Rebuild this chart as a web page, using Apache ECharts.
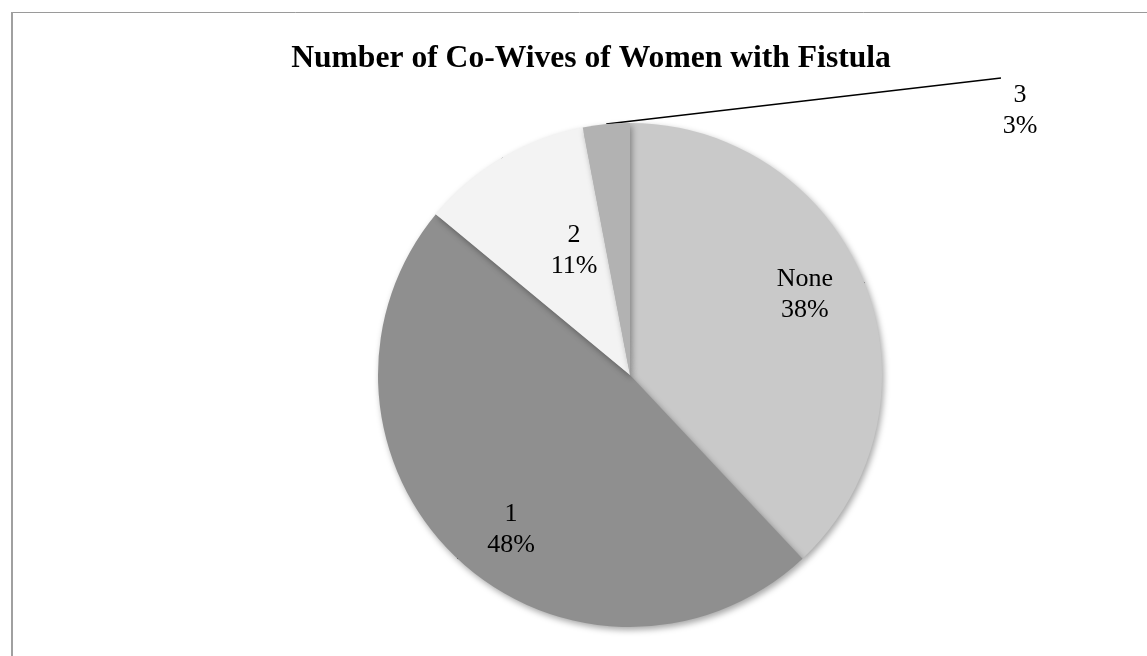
<!DOCTYPE html>
<html>
<head>
<meta charset="utf-8">
<script src="https://cdn.jsdelivr.net/npm/echarts@6/dist/echarts.min.js"></script>
<style>
html,body{margin:0;padding:0;background:#fff;}
#chart{width:1147px;height:656px;}
</style>
</head>
<body>
<div id="chart"></div>
<script>
const titleText = 'Number of Co-Wives of Women with Fistula';
const categories = ['None', '1', '2', '3'];
const values = [38, 48, 11, 3];
const colors = ['#c9c9c9', '#8f8f8f', '#f3f3f3', '#b2b2b2'];

const CX = 630, CY = 375, R = 252;
const total = values.reduce((a, b) => a + b, 0);
function midAngle(i) {
  let s = 0;
  for (let k = 0; k < i; k++) s += values[k];
  return ((s + values[i] / 2) / total) * 2 * Math.PI;
}
// radial fraction and angular offset (deg) of the inside labels
const labelFrac = [0.763, 0.775, 0.54];
const labelRot = [-3, -5.7, 6.3];

const chart = echarts.init(document.getElementById('chart'), null, {renderer: 'canvas'});
chart.setOption({
  backgroundColor: '#ffffff',
  animation: false,
  title: {
    text: titleText,
    left: 586, top: 38, textAlign: 'center',
    textStyle: {fontFamily: 'Liberation Serif', fontWeight: 'bold', fontSize: 31.6, color: '#000'}
  },
  graphic: [
    {type: 'line', shape: {x1: 11, y1: 12.5, x2: 1200, y2: 12.5}, style: {stroke: '#9a9a9a', lineWidth: 1}, silent: true},
    {type: 'line', shape: {x1: 12, y1: 12, x2: 12, y2: 700}, style: {stroke: '#a0a0a0', lineWidth: 2}, silent: true}
  ],
  series: [{
    type: 'pie',
    center: [CX, CY],
    radius: R,
    startAngle: 90,
    clockwise: true,
    data: categories.map((c, i) => ({name: c, value: values[i], itemStyle: {color: colors[i]}})),
    itemStyle: {
      borderWidth: 0,
      shadowBlur: 6, shadowOffsetX: 2, shadowOffsetY: 3, shadowColor: 'rgba(0,0,0,0.35)'
    },
    label: {
      show: true,
      position: 'outside',
      formatter: '{b}\n{d}%',
      fontFamily: 'Liberation Serif', fontSize: 26, color: '#000', lineHeight: 31,
      align: 'center'
    },
    labelLine: {show: true, length: 10, length2: 10, lineStyle: {color: '#000', width: 1.5}},
    labelLayout: function (p) {
      const i = p.dataIndex;
      const a = midAngle(i);
      if (i < 3) {
        const f = labelFrac[i];
        const b = a + labelRot[i] * Math.PI / 180;
        return {x: CX + f * R * Math.sin(b), y: CY - f * R * Math.cos(b), align: 'center', verticalAlign: 'middle'};
      }
      const sx = CX + R * Math.sin(a), sy = CY - R * Math.cos(a);
      const ex = 1001, ey = 78;
      return {x: ex + 19, y: ey + 2, align: 'center', verticalAlign: 'top',
        labelLinePoints: [[sx, sy], [(sx + ex) / 2, (sy + ey) / 2], [ex, ey]]};
    }
  }]
});
</script>
</body>
</html>
